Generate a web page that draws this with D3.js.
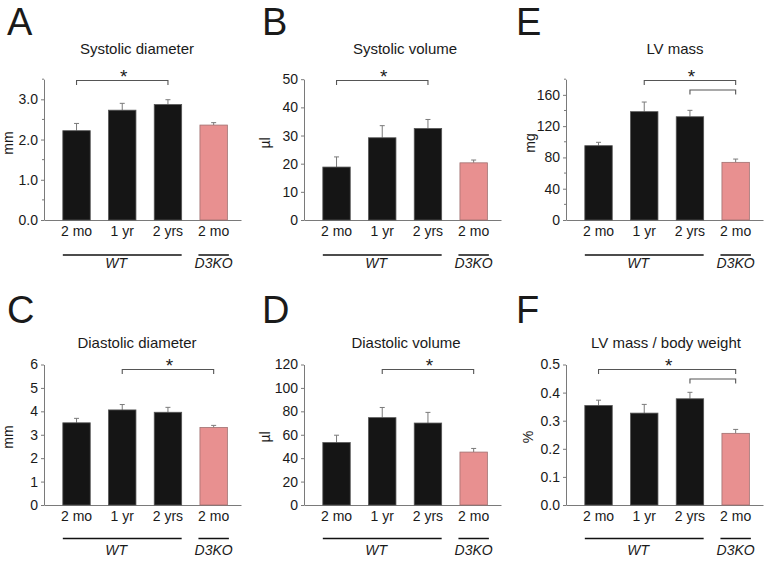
<!DOCTYPE html>
<html><head><meta charset="utf-8">
<script src="https://cdn.jsdelivr.net/npm/d3@7"></script>
<style>
body{margin:0;background:#fff}
text{font-family:"Liberation Sans",Arial,Helvetica,sans-serif;fill:#1a1a1a}
</style>
</head><body>
<svg id="chart" width="772" height="563"></svg>
<script>
// ---------- data ----------
const categories = ["WT 2 mo", "WT 1 yr", "WT 2 yrs", "D3KO 2 mo"];
const categoryLabels = ["2 mo", "1 yr", "2 yrs", "2 mo"];
const groupNames = ["WT", "D3KO"];
const groupMembers = [["WT 2 mo", "WT 1 yr", "WT 2 yrs"], ["D3KO 2 mo"]];

const systolicDiameter = [2.22, 2.73, 2.87, 2.36];
const systolicDiameterSEM = [0.18, 0.17, 0.12, 0.06];
const systolicVolume = [18.8, 29.2, 32.5, 20.3];
const systolicVolumeSEM = [3.6, 4.3, 3.2, 1.0];
const lvMass = [95, 138.5, 132, 73.7];
const lvMassSEM = [4.3, 12.3, 8.2, 4.2];
const diastolicDiameter = [3.51, 4.06, 3.96, 3.31];
const diastolicDiameterSEM = [0.19, 0.23, 0.21, 0.09];
const diastolicVolume = [53.3, 74.6, 70.0, 45.2];
const diastolicVolumeSEM = [6.3, 8.7, 9.1, 3.1];
const lvMassBW = [0.354, 0.327, 0.378, 0.255];
const lvMassBWSEM = [0.019, 0.031, 0.023, 0.014];

const ticksA = [0, 1, 2, 3], minorA = [0.5, 1.5, 2.5, 3.5];
const ticksB = [0, 10, 20, 30, 40, 50];
const ticksE = [0, 40, 80, 120, 160], minorE = [20, 60, 100, 140, 180];
const ticksC = [0, 1, 2, 3, 4, 5, 6];
const ticksD = [0, 20, 40, 60, 80, 100, 120];
const ticksF = [0, 0.1, 0.2, 0.3, 0.4, 0.5];

// significance brackets: [from category, to category]
const sigA = [["WT 2 mo", "WT 2 yrs"]];
const sigB = [["WT 2 mo", "WT 2 yrs"]];
const sigE = [["WT 1 yr", "D3KO 2 mo"], ["WT 2 yrs", "D3KO 2 mo"]];
const sigC = [["WT 1 yr", "D3KO 2 mo"]];
const sigD = [["WT 1 yr", "D3KO 2 mo"]];
const sigF = [["WT 2 mo", "D3KO 2 mo"], ["WT 2 yrs", "D3KO 2 mo"]];

// ---------- panels (layout) ----------
const panels = [
  {letter:"A", title:"Systolic diameter", unit:"mm", values:systolicDiameter, sem:systolicDiameterSEM,
   max:3.5, ticks:ticksA, minor:minorA, fmt:".1f", sig:sigA, col:0, row:0, titleDx:93, unitDx:-31},
  {letter:"B", title:"Systolic volume", unit:"µl", values:systolicVolume, sem:systolicVolumeSEM,
   max:50, ticks:ticksB, minor:[], fmt:"d", sig:sigB, col:1, row:0, titleDx:101, unitDx:-34},
  {letter:"E", title:"LV mass", unit:"mg", values:lvMass, sem:lvMassSEM,
   max:180, ticks:ticksE, minor:minorE, fmt:"d", sig:sigE, col:2, row:0, titleDx:109, unitDx:-31},
  {letter:"C", title:"Diastolic diameter", unit:"mm", values:diastolicDiameter, sem:diastolicDiameterSEM,
   max:6, ticks:ticksC, minor:[], fmt:"d", sig:sigC, col:0, row:1, titleDx:93, unitDx:-31},
  {letter:"D", title:"Diastolic volume", unit:"µl", values:diastolicVolume, sem:diastolicVolumeSEM,
   max:120, ticks:ticksD, minor:[], fmt:"d", sig:sigD, col:1, row:1, titleDx:102, unitDx:-34},
  {letter:"F", title:"LV mass / body weight", unit:"%", values:lvMassBW, sem:lvMassBWSEM,
   max:0.5, ticks:ticksF, minor:[], fmt:".1f", sig:sigF, col:2, row:1, titleDx:100, unitDx:-33},
];
const colX = [44, 304, 566];
const letterX = [7, 262, 516];
const rows = [
  {base:220, top:79.2, letterY:34.5, titleY:54, bracketY:80.5, lineY:255, groupY:268, unitY:143},
  {base:505, top:364.5, letterY:323, titleY:348, bracketY:369.5, lineY:538.5, groupY:555, unitY:437}
];
const axisLen = 197;
const black = "#151515", pink = "#e89090", gray = "#7a7a7a";

const svg = d3.select("#chart");

panels.forEach(p => {
  const ax = colX[p.col], r = rows[p.row];
  const g = svg.append("g");
  const x = d3.scaleBand().domain(categories).range([ax, ax + axisLen])
    .paddingInner(0.4).paddingOuter(0.355).align(0.58);
  const y = d3.scaleLinear().domain([0, p.max]).range([r.base, r.top]);

  // letter
  g.append("text").attr("x", letterX[p.col]).attr("y", r.letterY)
    .attr("font-size", 38).text(p.letter);
  // title
  g.append("text").attr("x", ax + p.titleDx).attr("y", r.titleY)
    .attr("text-anchor", "middle").attr("font-size", 15).text(p.title);
  // unit
  g.append("text").attr("transform", `translate(${ax + p.unitDx},${r.unitY}) rotate(-90)`)
    .attr("text-anchor", "middle").attr("font-size", 14).text(p.unit);

  // y axis
  const yAxis = d3.axisLeft(y).tickValues(p.ticks).tickFormat(d3.format(p.fmt))
    .tickSize(3).tickSizeOuter(0).tickPadding(3);
  const ya = g.append("g").attr("transform", `translate(${ax},0)`).call(yAxis);
  ya.select(".domain").attr("stroke", gray);
  ya.selectAll(".tick line").attr("stroke", gray);
  ya.selectAll(".tick text").attr("font-size", 14).attr("fill", "#1a1a1a")
    .attr("font-family", '"Liberation Sans",Arial,sans-serif');
  // minor ticks
  g.selectAll(".minor").data(p.minor).join("line")
    .attr("x1", ax - 2).attr("x2", ax).attr("y1", d => y(d)).attr("y2", d => y(d))
    .attr("stroke", gray);

  // x axis line
  const xAxis = d3.axisBottom(x).tickSize(0).tickFormat((d, i) => categoryLabels[i]).tickPadding(6);
  const xa = g.append("g").attr("transform", `translate(0,${r.base})`).call(xAxis);
  xa.select(".domain").attr("stroke", gray);
  xa.selectAll(".tick text").attr("font-size", 14).attr("fill", "#1a1a1a")
    .attr("font-family", '"Liberation Sans",Arial,sans-serif');

  // bars
  const data = categories.map((c, i) => ({c, v: p.values[i], e: p.sem[i], ko: c.startsWith("D3KO")}));
  // error bars
  g.selectAll(".err").data(data).join("line")
    .attr("x1", d => x(d.c) + x.bandwidth() / 2).attr("x2", d => x(d.c) + x.bandwidth() / 2)
    .attr("y1", d => y(d.v)).attr("y2", d => y(d.v + d.e))
    .attr("stroke", gray).attr("stroke-width", 1);
  g.selectAll(".cap").data(data).join("line")
    .attr("x1", d => x(d.c) + x.bandwidth() / 2 - 2.5).attr("x2", d => x(d.c) + x.bandwidth() / 2 + 2.5)
    .attr("y1", d => y(d.v + d.e)).attr("y2", d => y(d.v + d.e))
    .attr("stroke", gray).attr("stroke-width", 1);
  g.selectAll(".bar").data(data).join("rect")
    .attr("x", d => x(d.c)).attr("width", x.bandwidth())
    .attr("y", d => y(d.v)).attr("height", d => y(0) - y(d.v))
    .attr("fill", d => d.ko ? pink : black)
    .attr("stroke", d => d.ko ? "#a07070" : "#555").attr("stroke-width", 0.8);

  // significance brackets
  const cx = c => x(c) + x.bandwidth() / 2;
  p.sig.forEach((s, k) => {
    const by = r.bracketY + k * 9.5;
    const x1 = cx(s[0]), x2 = cx(s[1]);
    g.append("path").attr("d", `M${x1},${by + 4.5}V${by}H${x2}V${by + 4.5}`)
      .attr("fill", "none").attr("stroke", "#555").attr("stroke-width", 1.1);
    if (k === 0) {
      g.append("text").attr("x", (x1 + x2) / 2 + 1.5).attr("y", by + 2)
        .attr("text-anchor", "middle").attr("font-size", 19).text("*");
    }
  });

  // group lines and labels
  groupNames.forEach((gn, gi) => {
    const mem = groupMembers[gi];
    const gx1 = x(mem[0]) - (gi === 1 ? 1.5 : 0);
    const gx2 = x(mem[mem.length - 1]) + x.bandwidth() + (gi === 1 ? 1.5 : 0);
    g.append("line").attr("x1", gx1).attr("x2", gx2).attr("y1", r.lineY).attr("y2", r.lineY)
      .attr("stroke", "#111").attr("stroke-width", 1.5);
    g.append("text").attr("x", (gx1 + gx2) / 2 - (gi === 0 ? 6 : 0)).attr("y", r.groupY)
      .attr("text-anchor", "middle").attr("font-size", 14).attr("font-style", "italic").text(gn);
  });
});
</script>
</body></html>
